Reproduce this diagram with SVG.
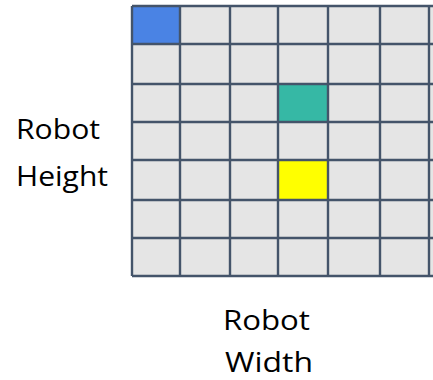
<svg xmlns="http://www.w3.org/2000/svg" width="433" height="380" viewBox="0 0 433 380">
<style>
.cell{fill:#E5E5E5}
.ln{stroke:#44546A;stroke-width:2.4;fill:none}
.lbl{font-family:"Open Sans","Liberation Sans",sans-serif;font-size:28px;fill:#000}
</style>
<rect width="433" height="380" fill="#FFFFFF"/>
<g id="grid">
<rect class="cell" x="132" y="6" width="310" height="270"/>
<rect id="cell-blue" x="132" y="6" width="48" height="38" fill="#4A83E4"/>
<rect id="cell-teal" x="278" y="84" width="50" height="38" fill="#36B8A5"/>
<rect id="cell-yellow" x="278" y="160" width="50" height="40" fill="#FFFF00"/>
<g class="ln">
<path d="M132 6H440M132 44H440M132 84H440M132 122H440M132 160H440M132 200H440M132 238H440M132 276H440"/>
<path d="M132 6V276M180 6V276M230 6V276M278 6V276M328 6V276M380 6V276M429 6V276"/>
</g>
</g>
<g id="label-height">
<text class="lbl" x="16" y="139" textLength="84" lengthAdjust="spacingAndGlyphs">Robot</text>
<text class="lbl" x="16" y="186" textLength="92" lengthAdjust="spacingAndGlyphs">Height</text>
</g>
<g id="label-width">
<text class="lbl" x="223" y="330" textLength="87" lengthAdjust="spacingAndGlyphs">Robot</text>
<text class="lbl" x="225" y="372" textLength="88" lengthAdjust="spacingAndGlyphs">Width</text>
</g>
</svg>
